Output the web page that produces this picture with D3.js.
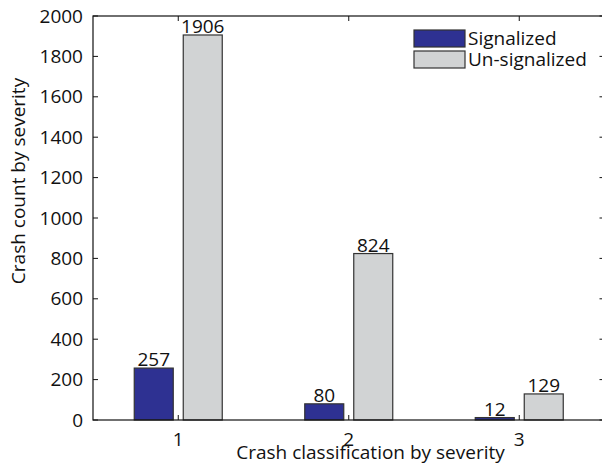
<!DOCTYPE html>
<html>
<head>
<meta charset="utf-8">
<style>
body { margin: 0; background: #fff; }
text { font-family: "Open Sans", sans-serif; fill: #111; }
</style>
</head>
<body>
<div id="chart"></div>
<script src="https://cdn.jsdelivr.net/npm/d3@7/dist/d3.min.js"></script>
<script>
// data
var categories = [1, 2, 3];
var signalized = [257, 80, 12];
var unsignalized = [1906, 824, 129];
var seriesNames = ['Signalized', 'Un-signalized'];
var yTicks = [0, 200, 400, 600, 800, 1000, 1200, 1400, 1600, 1800, 2000];

var colors = ['#2e3192', '#d1d3d4'];
var W = 602, H = 466;
// plot box (right edge falls just outside the picture, as in the reference)
var pLeft = 93, pRight = 604.5, pTop = 16, pBottom = 420;
var barW = 39, offsetX = 24.5, tickLen = 5, fs = 19;

var svg = d3.select('#chart').append('svg')
    .attr('width', W).attr('height', H);

var x = d3.scaleLinear().domain([0.5, 3.5]).range([pLeft, pRight]);
var y = d3.scaleLinear().domain([0, 2000]).range([pBottom, pTop]);

// bars
var series = [signalized, unsignalized];
series.forEach(function(vals, s) {
    var dx = s == 0 ? -offsetX : offsetX;
    var g = svg.append('g');
    g.selectAll('rect').data(vals).enter().append('rect')
        .attr('x', (d, i) => x(categories[i]) + dx - barW / 2)
        .attr('y', d => y(d))
        .attr('width', barW)
        .attr('height', d => y(0) - y(d))
        .attr('fill', colors[s])
        .attr('stroke', '#333')
        .attr('stroke-width', 1.2);
    g.selectAll('text').data(vals).enter().append('text')
        .attr('x', (d, i) => x(categories[i]) + dx)
        .attr('y', d => y(d) - 2)
        .attr('text-anchor', 'middle')
        .style('font-size', fs + 'px')
        .text(d => d);
});

// frame
svg.append('rect')
    .attr('x', pLeft).attr('y', pTop)
    .attr('width', pRight - pLeft).attr('height', pBottom - pTop)
    .attr('fill', 'none').attr('stroke', '#111').attr('stroke-width', 1.2);

// ticks (inward, on all sides)
var tk = svg.append('g').attr('stroke', '#111').attr('stroke-width', 1);
categories.forEach(function(c) {
    tk.append('line').attr('x1', x(c)).attr('x2', x(c)).attr('y1', pBottom).attr('y2', pBottom - tickLen);
    tk.append('line').attr('x1', x(c)).attr('x2', x(c)).attr('y1', pTop).attr('y2', pTop + tickLen);
});
yTicks.forEach(function(t) {
    tk.append('line').attr('x1', pLeft).attr('x2', pLeft + tickLen).attr('y1', y(t)).attr('y2', y(t));
    tk.append('line').attr('x1', pRight).attr('x2', pRight - tickLen).attr('y1', y(t)).attr('y2', y(t));
});

// tick labels
svg.append('g').selectAll('text').data(yTicks).enter().append('text')
    .attr('x', pLeft - 10)
    .attr('y', d => y(d))
    .attr('dy', '0.35em')
    .attr('text-anchor', 'end')
    .style('font-size', fs + 'px')
    .text(d => d);
svg.append('g').selectAll('text').data(categories).enter().append('text')
    .attr('x', d => x(d))
    .attr('y', pBottom + 19)
    .attr('dy', '0.35em')
    .attr('text-anchor', 'middle')
    .style('font-size', fs + 'px')
    .text(d => d);

// axis titles
svg.append('text')
    .attr('x', 370.5).attr('y', 459)
    .attr('text-anchor', 'middle')
    .style('font-size', fs + 'px')
    .text('Crash classification by severity');
svg.append('text')
    .attr('transform', 'translate(25,181) rotate(-90)')
    .attr('text-anchor', 'middle')
    .style('font-size', fs + 'px')
    .text('Crash count by severity');

// legend
var lg = svg.append('g');
seriesNames.forEach(function(n, i) {
    lg.append('rect')
        .attr('x', 414).attr('y', 30 + i * 21)
        .attr('width', 51).attr('height', 17)
        .attr('fill', colors[i])
        .attr('stroke', '#333').attr('stroke-width', 1.2);
    lg.append('text')
        .attr('x', 468).attr('y', 38.5 + i * 21)
        .attr('dy', '0.35em')
        .style('font-size', fs + 'px')
        .text(n);
});
</script>
</body>
</html>
